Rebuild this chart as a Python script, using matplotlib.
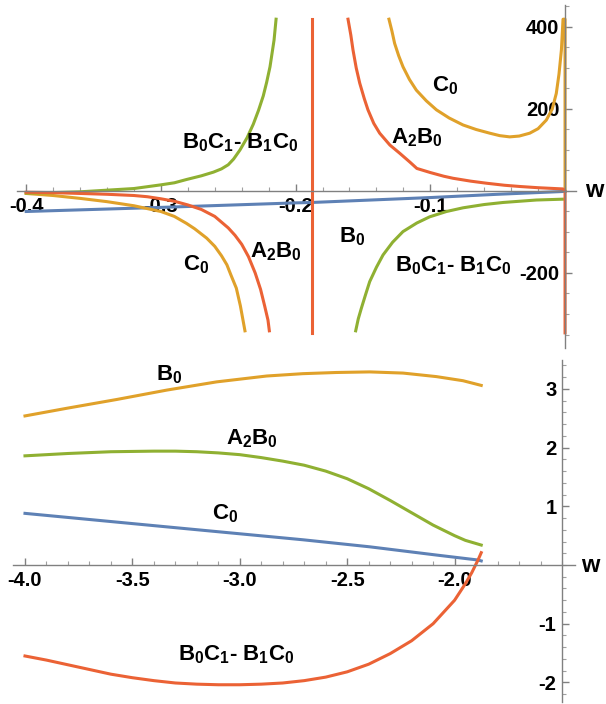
import matplotlib
matplotlib.use('Agg')
import matplotlib.pyplot as plt
from matplotlib.ticker import FixedLocator

FONT = 'Liberation Sans'
plt.rcParams['font.family'] = [FONT, 'DejaVu Sans']
plt.rcParams['font.weight'] = 'bold'
plt.rcParams['mathtext.fontset'] = 'custom'
plt.rcParams['mathtext.rm'] = FONT + ':bold'
plt.rcParams['mathtext.bf'] = FONT + ':bold'
plt.rcParams['mathtext.it'] = FONT + ':bold'

BLUE = '#5E81B5'
YELLOW = '#E0A12A'
GREEN = '#8FB032'
RED = '#EB6235'

# ---- upper panel: -0.4 < w < 0 ----
a2b0_left_w = [-0.4, -0.38, -0.36, -0.34, -0.32, -0.31, -0.30, -0.29, -0.28, -0.27, -0.26, -0.25,
               -0.245, -0.24, -0.235, -0.23, -0.226, -0.223, -0.2205, -0.2195]
a2b0_left_v = [-3, -4, -6, -8, -11, -14, -19, -25, -34, -45, -62, -90,
               -108, -130, -160, -200, -240, -280, -315, -341]
a2b0_right_w = [-0.1611, -0.159, -0.1574, -0.155, -0.1524, -0.149, -0.1463, -0.142, -0.1376, -0.13,
                -0.1227, -0.115, -0.11, -0.10, -0.09, -0.0831, -0.07, -0.0584, -0.045, -0.0336,
                -0.02, -0.0015, 0.0, 0.0]
a2b0_right_v = [419, 380, 344, 300, 263, 225, 198, 165, 141, 112,
                92, 70, 55, 45, 36, 31, 24, 19, 14, 11,
                8, 5, 0, -346]
a2b0_pole_w = [-0.188, -0.188]
a2b0_pole_v = [420, -346]

c0_left_w = [-0.4, -0.38, -0.36, -0.34, -0.32, -0.31, -0.30, -0.29, -0.281, -0.275, -0.266, -0.26,
             -0.255, -0.251, -0.248, -0.244, -0.241, -0.2376]
c0_left_v = [-6, -11, -18, -26, -36, -43, -50, -62, -79, -92, -115, -135,
             -158, -180, -205, -237, -280, -341]
c0_right_w = [-0.1307, -0.1285, -0.1265, -0.1235, -0.1203, -0.1155, -0.1104, -0.103, -0.0955, -0.086,
              -0.0757, -0.066, -0.0559, -0.0485, -0.0411, -0.034, -0.0262, -0.02, -0.0139, -0.0095,
              -0.0065, -0.0045, -0.0027, -0.0015, 0.0, 0.0]
c0_right_v = [419, 390, 360, 330, 303, 272, 246, 220, 198, 178,
              161, 150, 141, 135, 132, 134, 141, 152, 173, 200,
              238, 285, 344, 419, 419, 0]

bc_left_w = [-0.4, -0.38, -0.36, -0.34, -0.32, -0.30, -0.29, -0.281, -0.27, -0.261, -0.255, -0.25,
             -0.246, -0.2413, -0.236, -0.2314, -0.2275, -0.224, -0.2215, -0.219, -0.216, -0.2145]
bc_left_v = [-5, -4, -2, 2, 6, 15, 20, 28, 37, 46, 54, 64,
             78, 100, 130, 163, 197, 232, 265, 303, 368, 419]
bc_right_w = [-0.1554, -0.1535, -0.1512, -0.148, -0.145, -0.14, -0.1351, -0.128, -0.1203, -0.11,
              -0.1005, -0.088, -0.0757, -0.06, -0.046, -0.0213, -0.002]
bc_right_v = [-341, -312, -286, -252, -221, -186, -156, -125, -99, -78,
              -63, -50, -41, -33, -28, -22, -20]

b0_top_w = [-0.4, -0.3, -0.2, -0.188, -0.1, -0.05, 0.0]
b0_top_v = [-50, -40, -29, -28, -16, -8, -1]

top_xticks = [-0.4, -0.3, -0.2, -0.1]
top_xlabels = ['-0.4', '-0.3', '-0.2', '-0.1']
top_yticks = [-200, 200, 400]
top_ylabels = ['-200', '200', '400']

# ---- lower panel: -4 < w < -1.875 ----
b0_low_w = [-4.0, -3.806, -3.573, -3.340, -3.108, -2.875, -2.706, -2.551, -2.395, -2.240, -2.085, -1.961, -1.876]
b0_low_v = [2.54, 2.67, 2.82, 2.98, 3.12, 3.22, 3.26, 3.28, 3.29, 3.27, 3.21, 3.14, 3.06]

a2b0_low_w = [-4.0, -3.9, -3.8, -3.7, -3.6, -3.5, -3.4, -3.3, -3.2, -3.1, -3.0, -2.9,
              -2.8, -2.7, -2.6, -2.5, -2.4, -2.3, -2.2, -2.1, -2.0, -1.95, -1.876]
a2b0_low_v = [1.86, 1.88, 1.90, 1.915, 1.93, 1.935, 1.94, 1.94, 1.93, 1.91, 1.88, 1.83,
              1.77, 1.70, 1.60, 1.47, 1.30, 1.10, 0.89, 0.68, 0.50, 0.42, 0.34]

c0_low_w = [-4.0, -3.34, -2.706, -2.395, -2.085, -1.891, -1.876]
c0_low_v = [0.88, 0.65, 0.43, 0.31, 0.17, 0.085, 0.07]

bc_low_w = [-4.0, -3.9, -3.8, -3.7, -3.6, -3.5, -3.4, -3.3, -3.2, -3.1, -3.0, -2.9, -2.8,
            -2.7, -2.6, -2.5, -2.4, -2.3, -2.2, -2.1, -2.0, -1.95, -1.92, -1.891, -1.876]
bc_low_v = [-1.55, -1.62, -1.70, -1.78, -1.86, -1.92, -1.97, -2.01, -2.03, -2.04, -2.04, -2.03, -2.01,
            -1.97, -1.91, -1.82, -1.69, -1.51, -1.29, -1.00, -0.60, -0.32, -0.13, 0.085, 0.21]

low_xticks = [-4.0, -3.5, -3.0, -2.5, -2.0]
low_xlabels = ['-4.0', '-3.5', '-3.0', '-2.5', '-2.0']
low_yticks = [-2, -1, 1, 2, 3]
low_ylabels = ['-2', '-1', '1', '2', '3']

LW = 2.2
TXT = 16


def setup_axes(ax, x0, xb, yb, xminor, yminor):
    for s in ['top', 'right']:
        ax.spines[s].set_visible(False)
    ax.spines['left'].set_position(('data', x0))
    ax.spines['bottom'].set_position(('data', 0))
    ax.spines['left'].set_bounds(*yb)
    ax.spines['bottom'].set_bounds(*xb)
    for s in ['left', 'bottom']:
        ax.spines[s].set_color('#808080')
        ax.spines[s].set_linewidth(1.0)
    ax.patch.set_alpha(0)
    ax.xaxis.set_minor_locator(FixedLocator(xminor))
    ax.yaxis.set_minor_locator(FixedLocator(yminor))
    ax.tick_params(which='major', direction='in', length=5, width=1, color='#808080',
                   labelsize=14.5, pad=4)
    ax.tick_params(which='minor', direction='in', length=3, width=0.8, color='#a0a0a0')
    for lab in ax.get_xticklabels() + ax.get_yticklabels():
        lab.set_fontweight('bold')


def label(ax, x, y, s):
    ax.text(x, y, s, fontsize=TXT, ha='center', va='center')


fig = plt.figure(figsize=(6.06, 7.04), dpi=100)

# upper panel
ax1 = fig.add_axes([10 / 606, 1 - 350 / 704, 570 / 606, 347 / 704])
ax1.plot(b0_top_w, b0_top_v, color=BLUE, lw=LW)
ax1.plot(c0_left_w, c0_left_v, color=YELLOW, lw=LW)
ax1.plot(c0_right_w, c0_right_v, color=YELLOW, lw=LW)
ax1.plot(bc_left_w, bc_left_v, color=GREEN, lw=LW)
ax1.plot(bc_right_w, bc_right_v, color=GREEN, lw=LW)
ax1.plot(a2b0_left_w, a2b0_left_v, color=RED, lw=LW)
ax1.plot(a2b0_right_w, a2b0_right_v, color=RED, lw=LW)
ax1.plot(a2b0_pole_w, a2b0_pole_v, color=RED, lw=LW)
ax1.set_xlim(-0.4120, 0.0111)
ax1.set_ylim(-387.8, 458.5)
ax1.set_xticks(top_xticks, top_xlabels)
ax1.set_yticks(top_yticks, top_ylabels)
setup_axes(ax1, 0, (-0.407, 0.008), (-384, 453),
           [-0.4 + 0.02 * i for i in range(21)], [-350 + 50 * i for i in range(17)])

label(ax1, -0.2413, 119, r'$\mathbf{B_0C_1}$- $\mathbf{B_1C_0}$')
label(ax1, -0.0891, 258, r'$\mathbf{C_0}$')
label(ax1, -0.1099, 129, r'$\mathbf{A_2B_0}$')
label(ax1, -0.274, -180, r'$\mathbf{C_0}$')
label(ax1, -0.2145, -149, r'$\mathbf{A_2B_0}$')
label(ax1, -0.1581, -112, r'$\mathbf{B_0}$')
label(ax1, -0.0831, -183, r'$\mathbf{B_0C_1}$- $\mathbf{B_1C_0}$')
ax1.text(0.0215, 0, 'w', fontsize=17, fontweight='bold', ha='center', va='center')

# lower panel
ax2 = fig.add_axes([8 / 606, 0, 572 / 606, 349 / 704])
ax2.plot(c0_low_w, c0_low_v, color=BLUE, lw=LW)
ax2.plot(b0_low_w, b0_low_v, color=YELLOW, lw=LW)
ax2.plot(a2b0_low_w, a2b0_low_v, color=GREEN, lw=LW)
ax2.plot(bc_low_w, bc_low_v, color=RED, lw=LW)
ax2.set_xlim(-4.0791, -1.4162)
ax2.set_ylim(-2.368, 3.578)
ax2.set_xticks(low_xticks, low_xlabels)
ax2.set_yticks(low_yticks, low_ylabels)
setup_axes(ax2, -1.5, (-4.055, -1.44), (-2.33, 3.49),
           [-4.0 + 0.1 * i for i in range(26)], [-2.2 + 0.2 * i for i in range(29)])

label(ax2, -3.330, 3.25, r'$\mathbf{B_0}$')
label(ax2, -2.943, 2.15, r'$\mathbf{A_2B_0}$')
label(ax2, -3.069, 0.87, r'$\mathbf{C_0}$')
label(ax2, -3.018, -1.53, r'$\mathbf{B_0C_1}$- $\mathbf{B_1C_0}$')
ax2.text(-1.370, 0, 'w', fontsize=17, fontweight='bold', ha='center', va='center')

fig.savefig('out.png', dpi=100)
